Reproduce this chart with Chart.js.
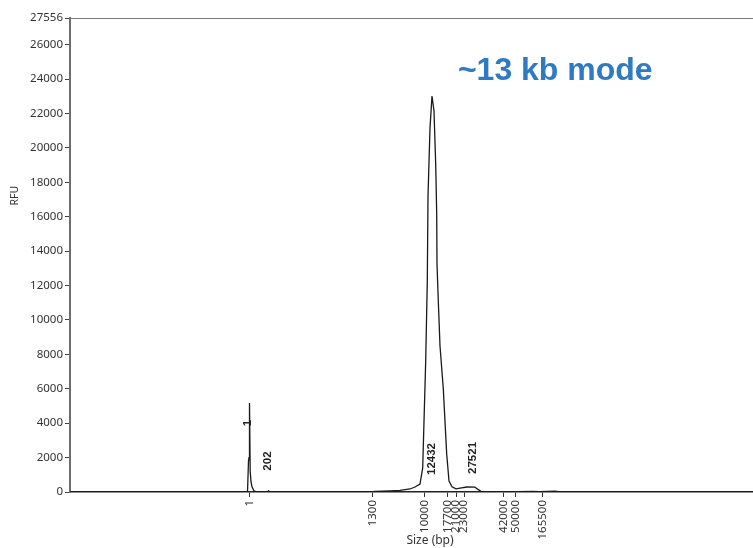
<!DOCTYPE html>
<html>
<head>
<meta charset="utf-8">
<script src="https://cdn.jsdelivr.net/npm/chart.js@4.4.1/dist/chart.umd.min.js"></script>
<style>
  html, body { margin: 0; padding: 0; background: #fff; overflow: hidden; }
  #wrap { width: 790px; height: 548px; }
</style>
</head>
<body>
<div id="wrap"><canvas id="c" width="790" height="548"></canvas></div>
<script>
// ---- data (x in scan positions, y in RFU) ----
const scanPos = [0, 176, 177.5, 178.5, 179, 179.5, 180.2, 181, 182, 184, 187, 197, 198.5, 200,
  300, 305, 320, 330, 340, 345, 350, 352.7, 354, 355.7, 357.3, 358, 360, 362, 364, 365.7, 366.7,
  367, 368.3, 370, 373.3, 376.7, 379, 382, 386, 390, 397, 405, 408, 411, 430, 444, 445, 447,
  463, 470, 485, 490, 720];
const rfu = [0, 0, 0, 1800, 2000, 5170, 1200, 600, 300, 60, 0, 0, 70, 0,
  0, 30, 60, 90, 175, 290, 465, 1400, 4100, 7600, 12270, 17200, 21160, 23020, 22150, 19070, 16160,
  13250, 11100, 8500, 6000, 2200, 640, 300, 180, 220, 290, 280, 150, 40, 20, 20, -40, 20,
  40, 20, 50, 0, 0];

const xTickPos = [179.3, 302.3, 354.3, 377.3, 386, 394, 433.3, 445.7, 472.7];
const xTickLabels = ['1', '1300', '10000', '17700', '21000', '23000', '42000', '50000', '165500'];
const yTicks = [0, 2000, 4000, 6000, 8000, 10000, 12000, 14000, 16000, 18000, 20000, 22000, 24000, 26000, 27556];

const peakLabels = ['1', '202', '12432', '27521'];
const peakLabelPos = [178, 198, 362, 403];
const peakLabelRfu = [4010, 1800, 1920, 1980];

const chartTitle = '~13 kb mode';
const xTitle = 'Size (bp)';
const yTitle = 'RFU';

const tickFont = { family: "'Noto Sans', 'Open Sans', sans-serif", size: 11.5 };

const overlay = {
  id: 'overlay',
  afterDatasetsDraw(chart) {
    const { ctx, chartArea: a, scales: { x, y } } = chart;
    ctx.save();
    // top frame line
    ctx.strokeStyle = '#777';
    ctx.lineWidth = 1.2;
    ctx.beginPath();
    ctx.moveTo(a.left, a.top + 0.5);
    ctx.lineTo(a.right, a.top + 0.5);
    ctx.stroke();
    // peak labels
    ctx.fillStyle = '#222';
    ctx.font = "bold 11.5px 'Liberation Sans', Arial, sans-serif";
    ctx.textAlign = 'center';
    ctx.textBaseline = 'middle';
    peakLabels.forEach((t, i) => {
      ctx.save();
      ctx.translate(x.getPixelForValue(peakLabelPos[i]), y.getPixelForValue(peakLabelRfu[i]));
      ctx.rotate(-Math.PI / 2);
      ctx.fillText(t, 0, 0);
      ctx.restore();
    });
    // y title
    ctx.save();
    ctx.font = "10.5px 'Noto Sans', sans-serif";
    ctx.fillStyle = '#333';
    ctx.translate(15, a.top + (a.bottom - a.top) * 0.375);
    ctx.rotate(-Math.PI / 2);
    ctx.fillText(yTitle, 0, 0);
    ctx.restore();
    // headline
    ctx.font = "bold 32px 'Liberation Sans', Arial, sans-serif";
    ctx.fillStyle = '#2E7BC4';
    ctx.textAlign = 'center';
    ctx.fillText(chartTitle, a.left + (a.right - a.left) * 0.674, a.top + (a.bottom - a.top) * 0.112);
    ctx.restore();
  }
};

new Chart(document.getElementById('c'), {
  type: 'line',
  data: {
    datasets: [{
      data: scanPos.map((p, i) => ({ x: p, y: rfu[i] })),
      borderColor: '#1a1a1a',
      borderWidth: 1.3,
      pointRadius: 0,
      tension: 0,
      fill: false
    }]
  },
  options: {
    responsive: false,
    animation: false,
    devicePixelRatio: 1,
    layout: { padding: { top: 18, right: 0, bottom: 0, left: 0 } },
    plugins: { legend: { display: false }, tooltip: { enabled: false }, title: { display: false } },
    scales: {
      x: {
        type: 'linear',
        min: 0,
        max: 720,
        afterBuildTicks: s => { s.ticks = xTickPos.map(v => ({ value: v })); },
        afterFit: s => { s.height = 56; },
        grid: { drawOnChartArea: false, drawTicks: true, tickLength: 5, tickColor: '#333' },
        border: { display: true, color: '#222', width: 1.6 },
        ticks: {
          autoSkip: false, minRotation: 90, maxRotation: 90, padding: 3,
          color: '#333', font: tickFont,
          callback: (v, i) => xTickLabels[i]
        },
        title: { display: true, text: xTitle, color: '#333', padding: 0,
          font: { family: "'Noto Sans', sans-serif", size: 12 } }
      },
      y: {
        type: 'linear',
        min: 0,
        max: 27556,
        afterBuildTicks: s => { s.ticks = yTicks.map(v => ({ value: v })); },
        afterFit: s => { s.width = 70; },
        grid: { drawOnChartArea: false, drawTicks: true, tickLength: 5, tickColor: '#444' },
        border: { display: true, color: '#6e6e6e', width: 2 },
        ticks: { padding: 2, color: '#333', font: tickFont, callback: v => String(v) }
      }
    }
  },
  plugins: [overlay]
});
</script>
</body>
</html>
